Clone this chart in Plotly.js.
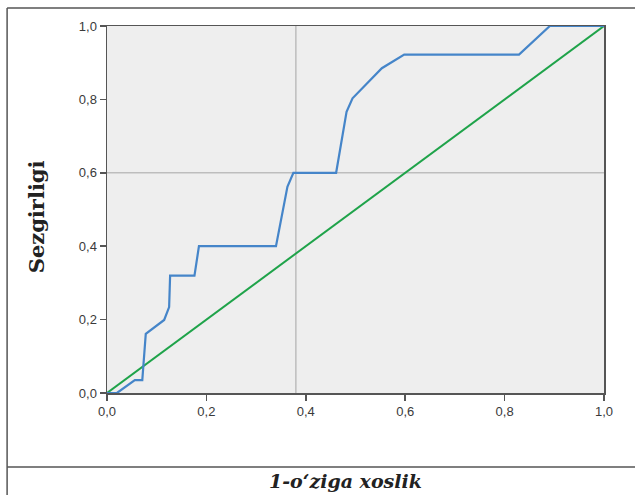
<!DOCTYPE html>
<html>
<head>
<meta charset="utf-8">
<script src="https://cdn.plot.ly/plotly-3.0.1.min.js"></script>
<style>html,body{margin:0;padding:0;background:#fff;}#chart{width:635px;height:495px;}</style>
</head>
<body>
<div id="chart"></div>
<script>
// ROC curve: 1 - specificity (x) vs sensitivity (y)
const rocFpr = [0.00, 0.02, 0.056, 0.071, 0.078, 0.115, 0.125, 0.127, 0.176, 0.185, 0.34, 0.363, 0.375, 0.461, 0.482, 0.494, 0.553, 0.598, 0.829, 0.891, 1.00];
const rocTpr = [0.00, 0.00, 0.035, 0.035, 0.161, 0.199, 0.234, 0.32, 0.32, 0.40, 0.40, 0.562, 0.60, 0.60, 0.766, 0.803, 0.885, 0.922, 0.922, 1.00, 1.00];
// Reference diagonal
const diagX = [0, 1];
const diagY = [0, 1];
// Reference (cut-off) lines
const refX = 0.38;
const refY = 0.6;
const tickVals = [0, 0.2, 0.4, 0.6, 0.8, 1.0];
const xTitle = "1-o\u2018ziga xoslik";
const yTitle = "Sezgirligi";

const axisCol = '#555555';
const tickFont = {family: 'Liberation Sans, Arial, sans-serif', size: 13, color: '#3a3a3a'};
const traces = [
  {x: diagX, y: diagY, mode: 'lines', line: {color: '#1fa34a', width: 2}, hoverinfo: 'skip'},
  {x: rocFpr, y: rocTpr, mode: 'lines', line: {color: '#4585c9', width: 2.2}, hoverinfo: 'skip'}
];
const layout = {
  width: 635, height: 495,
  margin: {l: 107, r: 31, t: 26, b: 102},
  paper_bgcolor: '#ffffff',
  plot_bgcolor: '#eeeeee',
  showlegend: false,
  separators: ',.',
  xaxis: {
    range: [0, 1], tickvals: tickVals, tickformat: '.1f',
    showgrid: false, zeroline: false,
    showline: true, linecolor: axisCol, linewidth: 1.5, mirror: true,
    ticks: 'outside', ticklen: 6, tickcolor: axisCol, tickwidth: 1.5,
    tickfont: tickFont
  },
  yaxis: {
    range: [0, 1], tickvals: tickVals, tickformat: '.1f',
    showgrid: false, zeroline: false,
    showline: true, linecolor: axisCol, linewidth: 1.5, mirror: true,
    ticks: 'outside', ticklen: 6, tickcolor: axisCol, tickwidth: 1.5,
    tickfont: tickFont
  },
  shapes: [
    {type: 'line', xref: 'x', yref: 'paper', x0: refX, x1: refX, y0: 0, y1: 1, line: {color: '#bdbdbd', width: 1.5}, layer: 'below'},
    {type: 'line', xref: 'paper', yref: 'y', x0: 0, x1: 1, y0: refY, y1: refY, line: {color: '#bdbdbd', width: 1.5}, layer: 'below'},
    // outer frame
    {type: 'line', xref: 'paper', yref: 'paper', x0: -0.201, x1: 1.07, y0: 1.049, y1: 1.049, line: {color: '#555', width: 1.5}},
    {type: 'line', xref: 'paper', yref: 'paper', x0: -0.201, x1: -0.201, y0: 1.049, y1: -0.29, line: {color: '#555', width: 1.5}},
    {type: 'line', xref: 'paper', yref: 'paper', x0: -0.201, x1: 1.07, y0: -0.2016, y1: -0.2016, line: {color: '#555', width: 1.5}}
  ],
  annotations: [
    {text: '<b>' + yTitle + '</b>', xref: 'paper', yref: 'paper', x: -0.142, y: 0.48, textangle: -90,
     showarrow: false, xanchor: 'center', yanchor: 'middle',
     font: {family: 'DejaVu Serif, Liberation Serif, serif', size: 21, color: '#222'}},
    {text: '<b><i>' + xTitle + '</i></b>', xref: 'paper', yref: 'paper', x: 0.479, y: -0.24,
     showarrow: false, xanchor: 'center', yanchor: 'middle',
     font: {family: 'DejaVu Serif, Liberation Serif, serif', size: 19, color: '#222'}}
  ]
};
Plotly.newPlot('chart', traces, layout, {staticPlot: true, displayModeBar: false});
</script>
</body>
</html>
